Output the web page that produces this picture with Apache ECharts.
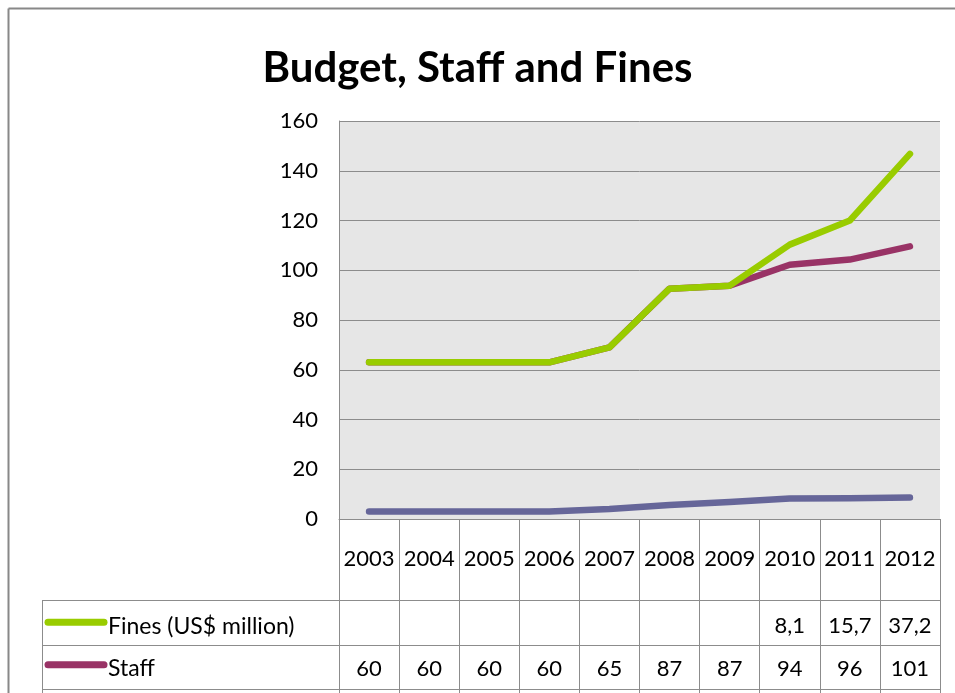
<!DOCTYPE html>
<html>
<head>
<meta charset="utf-8">
<script src="https://cdn.jsdelivr.net/npm/echarts@6/dist/echarts.min.js"></script>
<style>
html,body{margin:0;padding:0;background:#fff;}
#c{width:955px;height:693px;}
</style>
</head>
<body>
<div id="c"></div>
<script>
const categories = ['2003','2004','2005','2006','2007','2008','2009','2010','2011','2012'];
const budget = [3, 3, 3, 3, 4, 5.6, 6.8, 8.2, 8.3, 8.6];
const staff = [60, 60, 60, 60, 65, 87, 87, 94, 96, 101];
const fines = [null, null, null, null, null, null, null, 8.1, 15.7, 37.2];
const yTicks = [0, 20, 40, 60, 80, 100, 120, 140, 160];

const FONT = 'Lato, "Open Sans", sans-serif';
const colFines = '#99CC00', colStaff = '#993366', colBudget = '#666699';
const lineCol = '#8c8c8c';

const chart = echarts.init(document.getElementById('c'), null, {renderer: 'canvas'});
const fmt = v => (v === null || v === undefined) ? '' : String(v).replace('.', ',');

const seriesBase = {
  type: 'line', stack: 'total', symbol: 'none', smooth: false,
  lineStyle: {width: 6.5, cap: 'round', join: 'round'}
};

chart.setOption({
  animation: false,
  backgroundColor: '#fff',
  title: {
    text: 'Budget, Staff and Fines', left: 'center', top: 42,
    textStyle: {fontFamily: FONT, fontWeight: 'bold', fontSize: 42, color: '#000'}
  },
  grid: {
    left: 339, right: 15, top: 121, bottom: 174,
    show: true, backgroundColor: '#E6E6E6', borderWidth: 0
  },
  xAxis: {
    type: 'category', data: categories, boundaryGap: true,
    axisLine: {show: true, lineStyle: {color: lineCol, width: 1}},
    axisTick: {show: true, interval: 0, length: 180, lineStyle: {color: lineCol, width: 1}},
    axisLabel: {interval: 0, margin: 29, fontFamily: FONT, fontSize: 22, color: '#000'},
    splitLine: {show: false}
  },
  yAxis: {
    type: 'value', min: yTicks[0], max: yTicks[yTicks.length - 1], interval: 20,
    axisLine: {show: true, lineStyle: {color: lineCol, width: 1}},
    axisTick: {show: false},
    axisLabel: {margin: 21, fontFamily: FONT, fontSize: 22, color: '#000'},
    splitLine: {show: true, lineStyle: {color: lineCol, width: 1}}
  },
  series: [
    Object.assign({}, seriesBase, {name: 'Budget', data: budget, itemStyle: {color: colBudget}, lineStyle: Object.assign({}, seriesBase.lineStyle, {color: colBudget})}),
    Object.assign({}, seriesBase, {name: 'Staff', data: staff, itemStyle: {color: colStaff}, lineStyle: Object.assign({}, seriesBase.lineStyle, {color: colStaff})}),
    Object.assign({}, seriesBase, {name: 'Fines (US$ million)', data: fines.map(v => v === null ? 0 : v), itemStyle: {color: colFines}, lineStyle: Object.assign({}, seriesBase.lineStyle, {color: colFines})})
  ]
});

// Data table built from the axis geometry
const xs = categories.map((c, i) => chart.convertToPixel({xAxisIndex: 0}, i));
const step = xs.length > 1 ? xs[1] - xs[0] : 60;
const plotRight = xs[xs.length - 1] + step / 2;
const plotBottom = chart.convertToPixel({yAxisIndex: 0}, 0);
const tableLeft = 42;
const headerBottom = plotBottom + 81;
const rowH = 44.5;

const rows = [
  {name: 'Fines (US$ million)', values: fines, color: colFines},
  {name: 'Staff', values: staff, color: colStaff},
  {name: 'Budget', values: budget, color: colBudget}
];

const g = [];
g.push({type: 'line', shape: {x1: 8.5, y1: 8.5, x2: 960, y2: 8.5}, style: {stroke: '#888', lineWidth: 2}});
g.push({type: 'line', shape: {x1: 8.5, y1: 8.5, x2: 8.5, y2: 700}, style: {stroke: '#888', lineWidth: 2}});
g.push({type: 'line', shape: {x1: tableLeft + 0.5, y1: headerBottom, x2: tableLeft + 0.5, y2: headerBottom + rowH * rows.length}, style: {stroke: lineCol, lineWidth: 1}});
for (let r = 0; r <= rows.length; r++) {
  const y = Math.round(headerBottom + r * rowH) + 0.5;
  g.push({type: 'line', shape: {x1: tableLeft, y1: y, x2: plotRight, y2: y}, style: {stroke: lineCol, lineWidth: 1}});
}
rows.forEach((row, r) => {
  const cy = headerBottom + r * rowH + rowH / 2 + (r === 0 ? 4 : 2);
  g.push({type: 'line', shape: {x1: tableLeft + 6, y1: cy - 4, x2: tableLeft + 62, y2: cy - 4},
    style: {stroke: row.color, lineWidth: 7, lineCap: 'round'}});
  g.push({type: 'text', x: tableLeft + 66, y: cy, style: {text: row.name, fontFamily: FONT, fontSize: 23, fill: '#000', align: 'left', verticalAlign: 'middle'}});
  row.values.forEach((v, i) => {
    g.push({type: 'text', x: xs[i], y: cy, style: {text: fmt(v), fontFamily: FONT, fontSize: 22, fill: '#000', align: 'center', verticalAlign: 'middle'}});
  });
});
chart.setOption({graphic: g});
</script>
</body>
</html>
